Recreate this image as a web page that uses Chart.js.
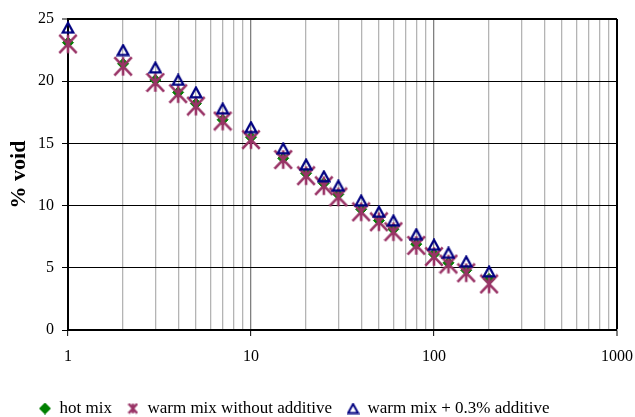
<!DOCTYPE html>
<html>
<head>
<meta charset="utf-8">
<script src="https://cdn.jsdelivr.net/npm/chart.js@4.4.1/dist/chart.umd.min.js"></script>
<style>
  html, body { margin: 0; padding: 0; background: #fff; overflow: hidden; }
  canvas { display: block; }
</style>
</head>
<body>
<canvas id="voidChart" width="635" height="427"></canvas>
<script>
// compaction data
const gyrations = [1, 2, 3, 4, 5, 7, 10, 15, 20, 25, 30, 40, 50, 60, 80, 100, 120, 150, 200];
const hotMix = [23.1, 21.4, 20.1, 19.1, 18.2, 16.9, 15.5, 13.8, 12.6, 11.8, 10.9, 9.7, 8.8, 8.1, 6.9, 6.1, 5.4, 4.8, 4.1];
const warmNoAdditive = [23.0, 21.2, 19.9, 19.0, 18.0, 16.8, 15.3, 13.7, 12.4, 11.6, 10.7, 9.5, 8.7, 7.9, 6.8, 5.9, 5.3, 4.6, 3.7];
const warmAdditive = [24.3, 22.5, 21.1, 20.1, 19.1, 17.8, 16.3, 14.6, 13.3, 12.35, 11.6, 10.4, 9.5, 8.8, 7.7, 6.85, 6.2, 5.5, 4.7];

const xGridValues = [1, 2, 3, 4, 5, 6, 7, 8, 9, 10, 20, 30, 40, 50, 60, 70, 80, 90, 100, 200, 300, 400, 500, 600, 700, 800, 900, 1000];
const xLabelValues = [1, 10, 100, 1000];

function toPoints(values) {
    return values.map((y, i) => ({x: gyrations[i], y: y}));
}

// Excel-like star marker: an X with a vertical stroke
function starMarker(w, h, lw, color) {
    const c = document.createElement('canvas');
    c.width = w; c.height = h;
    const g = c.getContext('2d');
    g.strokeStyle = color;
    g.lineWidth = lw;
    const p = lw / 2;
    g.beginPath();
    g.moveTo(p, p); g.lineTo(w - p, h - p);
    g.moveTo(w - p, p); g.lineTo(p, h - p);
    g.moveTo(w / 2, p); g.lineTo(w / 2, h - p);
    g.stroke();
    return c;
}

function triangleMarker(w, h, lw, color) {
    const c = document.createElement('canvas');
    c.width = w; c.height = h;
    const g = c.getContext('2d');
    g.strokeStyle = color;
    g.lineWidth = lw;
    const p = lw / 2 + 0.5;
    g.beginPath();
    g.moveTo(w / 2, p);
    g.lineTo(w - p, h - p);
    g.lineTo(p, h - p);
    g.closePath();
    g.stroke();
    return c;
}

function diamondMarker(w, color) {
    const c = document.createElement('canvas');
    c.width = w; c.height = w;
    const g = c.getContext('2d');
    g.fillStyle = color;
    g.beginPath();
    g.moveTo(w / 2, 0); g.lineTo(w, w / 2); g.lineTo(w / 2, w); g.lineTo(0, w / 2);
    g.closePath();
    g.fill();
    return c;
}

const GREEN = '#008000';
const PLUM = '#993366';
const NAVY = '#000080';

const legendIcons = [diamondMarker(12, GREEN), starMarker(11, 12, 2.5, PLUM), triangleMarker(13, 12, 2, NAVY)];

// nudge the legend row to where the original sits
const legendShift = {
    id: 'legendShift',
    afterLayout(chart) {
        chart.legend.left += 24;
    }
};

Chart.defaults.font.family = '"Liberation Serif", "Times New Roman", serif';
Chart.defaults.color = '#000';

const ctx = document.getElementById('voidChart').getContext('2d');
new Chart(ctx, {
    type: 'scatter',
    data: {
        datasets: [{
            label: 'hot mix',
            data: toPoints(hotMix),
            pointStyle: 'rectRot',
            pointRadius: 5.5,
            backgroundColor: GREEN,
            borderColor: GREEN,
            borderWidth: 1,
            clip: false,
            order: 3
        }, {
            label: 'warm mix without additive',
            data: toPoints(warmNoAdditive),
            pointStyle: starMarker(20, 21, 2.6, PLUM),
            clip: false,
            order: 2
        }, {
            label: 'warm mix + 0.3% additive',
            data: toPoints(warmAdditive),
            pointStyle: triangleMarker(14, 13, 2.2, NAVY),
            clip: false,
            order: 1
        }]
    },
    options: {
        responsive: false,
        animation: false,
        layout: {
            padding: {left: 0, right: 18, top: 19, bottom: 0}
        },
        scales: {
            x: {
                type: 'logarithmic',
                min: 1,
                max: 1000,
                afterBuildTicks: function(scale) {
                    scale.ticks = xGridValues.map(v => ({value: v, major: xLabelValues.includes(v)}));
                },
                afterFit: function(scale) {
                    scale.height = 55;
                    scale.paddingRight = 0;
                    scale.paddingLeft = 0;
                },
                border: {color: '#000', width: 2},
                grid: {
                    color: function(c) {
                        const v = c.tick ? c.tick.value : 0;
                        if (v === 1) return 'rgba(0,0,0,0)';
                        if (v === 1000) return '#000';
                        if (v === 10 || v === 100) return '#808080';
                        return '#b4b4b4';
                    },
                    lineWidth: function(c) {
                        if (!c.tick) return 1;
                        if (c.tick.value === 1000) return 2;
                        return 1.3;
                    },
                    tickLength: 6,
                    tickWidth: 1,
                    tickColor: function(c) {
                        return c.tick && xLabelValues.includes(c.tick.value) ? '#000' : 'rgba(0,0,0,0)';
                    }
                },
                ticks: {
                    autoSkip: false,
                    maxRotation: 0,
                    padding: 11,
                    font: {size: 16},
                    callback: function(value) {
                        return xLabelValues.includes(value) ? String(value) : '';
                    }
                }
            },
            y: {
                min: 0,
                max: 25,
                afterFit: function(scale) {
                    scale.width = 68;
                },
                border: {color: '#000', width: 2},
                grid: {
                    color: function(c) {
                        const v = c.tick ? c.tick.value : 0;
                        return v === 0 ? 'rgba(0,0,0,0)' : '#000';
                    },
                    lineWidth: function(c) {
                        return c.tick && c.tick.value === 25 ? 2 : 1;
                    },
                    tickLength: 6,
                    tickWidth: 1,
                    tickColor: '#000'
                },
                ticks: {
                    stepSize: 5,
                    padding: 8,
                    font: {size: 16}
                },
                title: {
                    display: true,
                    text: '% void',
                    font: {size: 22, weight: 'bold'},
                    padding: {top: 6, bottom: 0}
                }
            }
        },
        plugins: {
            tooltip: {enabled: false},
            legend: {
                position: 'bottom',
                align: 'start',
                labels: {
                    usePointStyle: true,
                    boxWidth: 12,
                    boxHeight: 12,
                    padding: 15,
                    font: {size: 17},
                    generateLabels: function(chart) {
                        const items = Chart.defaults.plugins.legend.labels.generateLabels(chart);
                        items.sort((a, b) => a.datasetIndex - b.datasetIndex);
                        items.forEach(item => { item.pointStyle = legendIcons[item.datasetIndex]; });
                        return items;
                    }
                }
            }
        }
    },
    plugins: [legendShift]
});
</script>
</body>
</html>
